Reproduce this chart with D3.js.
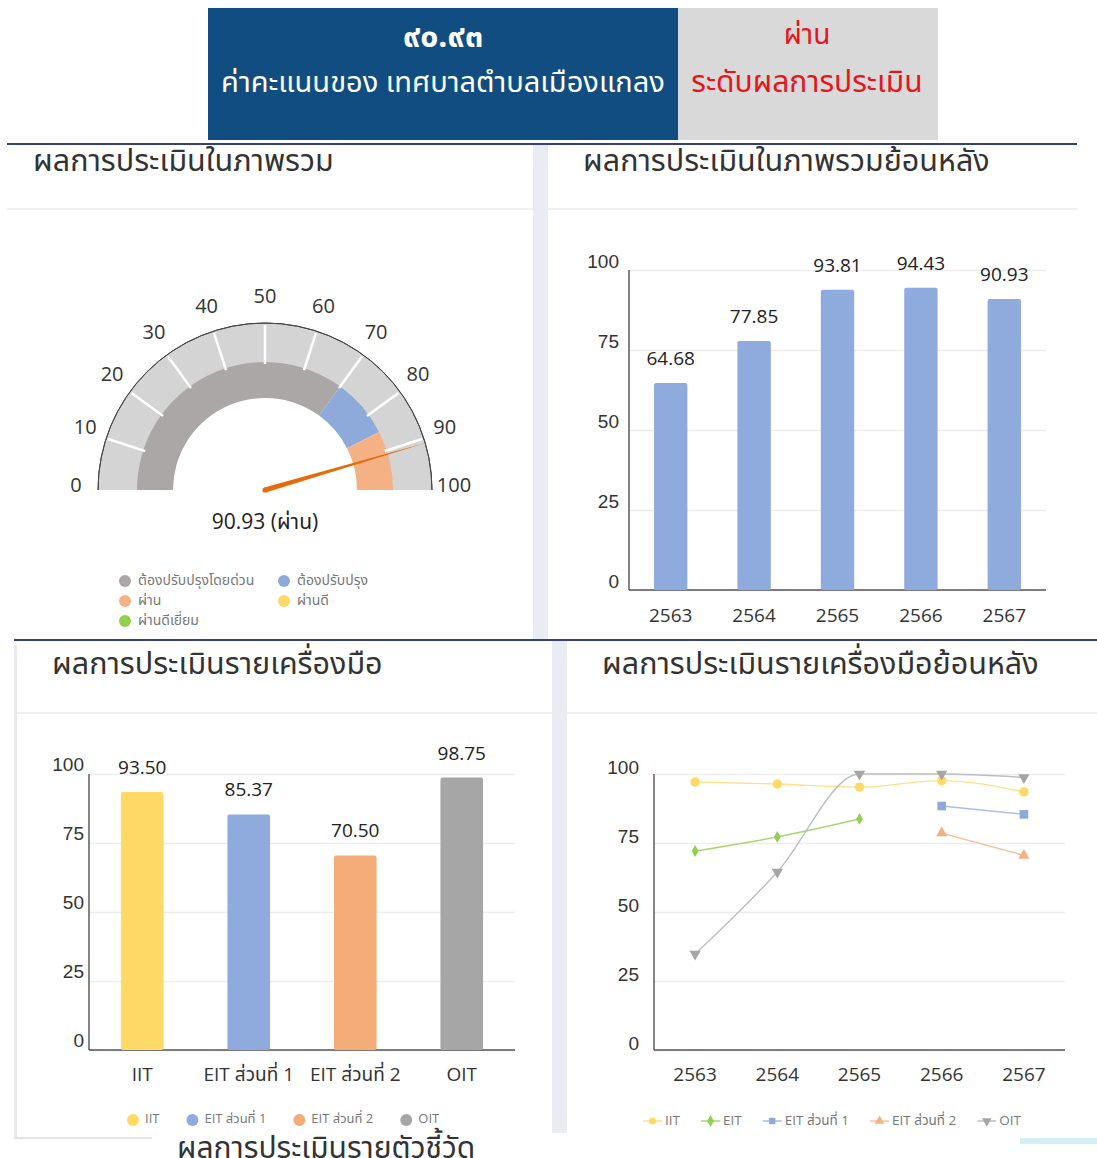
<!DOCTYPE html>
<html>
<head>
<meta charset="utf-8">
<script src="https://cdn.jsdelivr.net/npm/d3@7"></script>
<style>
  body { margin: 0; background: #fff; }
  svg { display: block; font-family: "Open Sans", "Noto Sans Thai", "Noto Sans", sans-serif; }
</style>
</head>
<body>
<svg id="viz" width="1097" height="1158"></svg>
<script>
// ---- data ----
var headerScore = "๙๐.๙๓";
var headerName = "ค่าคะแนนของ เทศบาลตำบลเมืองแกลง";
var headerLevel = "ผ่าน";
var headerLevelTitle = "ระดับผลการประเมิน";

var panelTitles = ["ผลการประเมินในภาพรวม", "ผลการประเมินในภาพรวมย้อนหลัง", "ผลการประเมินรายเครื่องมือ", "ผลการประเมินรายเครื่องมือย้อนหลัง"];
var footerTitle = "ผลการประเมินรายตัวชี้วัด";

var score = 90.93;
var scoreLevel = "ผ่าน";
var gaugeTicks = [0, 10, 20, 30, 40, 50, 60, 70, 80, 90, 100];
var gaugeBandLimits = [0, 70, 85, 100];
var gaugeBandColors = ["#aba7a7", "#8eaadb", "#f4b183"];
var levelNames = ["ต้องปรับปรุงโดยด่วน", "ต้องปรับปรุง", "ผ่าน", "ผ่านดี", "ผ่านดีเยี่ยม"];
var levelColors = ["#aba7a7", "#8eaadb", "#f4b183", "#ffd966", "#92d050"];

var years = ["2563", "2564", "2565", "2566", "2567"];
var overallScores = [64.68, 77.85, 93.81, 94.43, 90.93];

var tools = ["IIT", "EIT ส่วนที่ 1", "EIT ส่วนที่ 2", "OIT"];
var toolScores = [93.50, 85.37, 70.50, 98.75];
var toolColors = ["#ffd966", "#8faadc", "#f4ac78", "#a6a6a6"];

var yTicks = [0, 25, 50, 75, 100];

var seriesNames = ["IIT", "EIT", "EIT ส่วนที่ 1", "EIT ส่วนที่ 2", "OIT"];
var iitByYear = [97.12, 96.38, 95.25, 97.61, 93.50];
var eitByYear = [72.1, 77.2, 83.7, null, null];
var eit1ByYear = [null, null, null, 88.4, 85.37];
var eit2ByYear = [null, null, null, 78.6, 70.50];
var oitByYear = [34.8, 64.5, 100, 100, 98.75];
var seriesColors = ["#ffd966", "#92d050", "#8eaadb", "#f4b183", "#a5a5a5"];
var seriesLineColors = ["#ffe08a", "#a6d672", "#a9bfe6", "#f6bf98", "#bdbdbd"];
var seriesSymbols = [d3.symbolCircle, d3.symbolDiamond, d3.symbolSquare, d3.symbolTriangle, d3.symbolTriangle];

var svg = d3.select("#viz");

// ---- header ----
svg.append("rect").attr("x", 208).attr("y", 8).attr("width", 470).attr("height", 132).attr("fill", "#114d80");
svg.append("rect").attr("x", 678).attr("y", 8).attr("width", 260).attr("height", 132).attr("fill", "#d9d9d9");
svg.append("text").attr("x", 443).attr("y", 38).attr("text-anchor", "middle").attr("dominant-baseline", "middle")
	.attr("font-size", 32).attr("font-weight", "bold").attr("fill", "#fff").text(headerScore);
svg.append("text").attr("x", 443).attr("y", 84).attr("text-anchor", "middle").attr("dominant-baseline", "middle")
	.attr("font-size", 29).attr("fill", "#fff").text(headerName);
svg.append("text").attr("x", 807).attr("y", 37).attr("text-anchor", "middle").attr("dominant-baseline", "middle")
	.attr("font-size", 28).attr("fill", "#e8141b").text(headerLevel);
svg.append("text").attr("x", 807).attr("y", 84).attr("text-anchor", "middle").attr("dominant-baseline", "middle")
	.attr("font-size", 30).attr("fill", "#e8141b").text(headerLevelTitle);

// ---- page frame ----
svg.append("rect").attr("x", 533).attr("y", 145).attr("width", 15).attr("height", 495).attr("fill", "#e9edf3");
svg.append("rect").attr("x", 552).attr("y", 641).attr("width", 15).attr("height", 492).attr("fill", "#e9edf3");
svg.append("rect").attr("x", 14).attr("y", 645).attr("width", 3).attr("height", 494).attr("fill", "#e6e9ee");
svg.append("rect").attr("x", 14).attr("y", 1137).attr("width", 138).attr("height", 2).attr("fill", "#e3e3e3");
svg.append("line").attr("x1", 7).attr("x2", 1077).attr("y1", 144).attr("y2", 144).attr("stroke", "#343f7c").attr("stroke-width", 2);
svg.append("line").attr("x1", 14).attr("x2", 1097).attr("y1", 640).attr("y2", 640).attr("stroke", "#343f7c").attr("stroke-width", 2);
svg.append("rect").attr("x", 1020).attr("y", 1138).attr("width", 77).attr("height", 6).attr("fill", "#d3efee");

var seps = [[7, 533, 209], [548, 1077, 209], [17, 552, 713], [567, 1097, 713]];
seps.forEach(function(s) {
	svg.append("line").attr("x1", s[0]).attr("x2", s[1]).attr("y1", s[2]).attr("y2", s[2])
		.attr("stroke", "#efefef").attr("stroke-width", 2);
});

var titlePos = [[33, 163], [583, 163], [52, 666], [602, 666]];
panelTitles.forEach(function(t, i) {
	svg.append("text").attr("x", titlePos[i][0]).attr("y", titlePos[i][1]).attr("dominant-baseline", "middle")
		.attr("font-size", 30.5).attr("fill", "#333").text(t);
});
svg.append("text").attr("x", 177).attr("y", 1150).attr("dominant-baseline", "middle")
	.attr("font-size", 30).attr("fill", "#333").text(footerTitle);

// ---- gauge ----
var gauge = svg.append("g").attr("transform", "translate(265,490)");
var ang = d3.scaleLinear().domain([0, 100]).range([-Math.PI / 2, Math.PI / 2]);

gauge.append("path")
	.attr("d", d3.arc()({innerRadius: 127, outerRadius: 167, startAngle: ang(0), endAngle: ang(100)}))
	.attr("fill", "#d4d4d4");
gauge.append("path")
	.attr("d", d3.arc()({innerRadius: 167, outerRadius: 167, startAngle: ang(0), endAngle: ang(100)}))
	.attr("fill", "none").attr("stroke", "#444").attr("stroke-width", 1);

for (var b = 0; b < gaugeBandColors.length; b++) {
	gauge.append("path")
		.attr("d", d3.arc()({innerRadius: 92, outerRadius: 128, startAngle: ang(gaugeBandLimits[b]), endAngle: ang(gaugeBandLimits[b + 1])}))
		.attr("fill", gaugeBandColors[b]);
}

gaugeTicks.forEach(function(t) {
	var a = ang(t);
	if (t > 0 && t < 100) {
		gauge.append("line")
			.attr("x1", Math.sin(a) * 126).attr("y1", -Math.cos(a) * 126)
			.attr("x2", Math.sin(a) * 165).attr("y2", -Math.cos(a) * 165)
			.attr("stroke", "#fff").attr("stroke-width", 2.5);
	}
	gauge.append("text")
		.attr("x", Math.sin(a) * 189).attr("y", -Math.cos(a) * 189 - 3)
		.attr("text-anchor", "middle").attr("dominant-baseline", "middle")
		.attr("font-size", 20).attr("fill", "#333").text(t);
});

// needle
var na = ang(score);
var tip = [Math.sin(na) * 168, -Math.cos(na) * 168];
var px = Math.cos(na) * 2.6, py = Math.sin(na) * 2.6;
gauge.append("path")
	.attr("d", "M" + (-px) + "," + (-py) + " L" + tip[0] + "," + tip[1] + " L" + px + "," + py + " Z")
	.attr("fill", "#e46c0a");
gauge.append("circle").attr("r", 2.6).attr("fill", "#e46c0a");

gauge.append("text").attr("x", 0).attr("y", 33).attr("text-anchor", "middle").attr("dominant-baseline", "middle")
	.attr("font-size", 21).attr("fill", "#222").text(score.toFixed(2) + " (" + scoreLevel + ")");

// gauge legend
levelNames.forEach(function(n, i) {
	var col = i % 2, row = Math.floor(i / 2);
	var g = svg.append("g").attr("transform", "translate(" + (125 + col * 159) + "," + (581 + row * 20) + ")");
	g.append("circle").attr("r", 6).attr("fill", levelColors[i]);
	g.append("text").attr("x", 13).attr("dominant-baseline", "middle")
		.attr("font-size", 14).attr("fill", "#777").text(n);
});

// ---- helper for y axis with grid ----
function drawYAxis(g, y, x0, x1, pad, dy) {
	var ax = g.append("g").attr("transform", "translate(" + x0 + ",0)")
		.call(d3.axisLeft(y).tickValues(yTicks).tickSize(-(x1 - x0)).tickPadding(pad));
	ax.select(".domain").remove();
	ax.selectAll(".tick line").attr("stroke", "#ececec").attr("stroke-width", 1.5);
	ax.selectAll(".tick text").attr("font-size", 19).attr("fill", "#333").attr("dy", dy)
		.attr("font-family", "inherit");
	g.append("line").attr("x1", x0).attr("x2", x0).attr("y1", y(100)).attr("y2", y(0)).attr("stroke", "#333").attr("stroke-width", 1.2);
	g.append("line").attr("x1", x0).attr("x2", x1).attr("y1", y(0)).attr("y2", y(0)).attr("stroke", "#555").attr("stroke-width", 1.5);
}

function drawXLabels(g, labels, xpos, yv) {
	labels.forEach(function(l) {
		g.append("text").attr("x", xpos(l)).attr("y", yv).attr("text-anchor", "middle").attr("dominant-baseline", "middle")
			.attr("font-size", 19).attr("fill", "#333").text(l);
	});
}

// ---- overall by year bars ----
var g1 = svg.append("g");
var x1 = d3.scaleBand().domain(years).range([629, 1046]).paddingInner(0.6).paddingOuter(0.3);
var y1 = d3.scaleLinear().domain([0, 100]).range([590, 270]);
drawYAxis(g1, y1, 629, 1046, 10, "-0.15em");
g1.selectAll(".bar").data(years).enter().append("rect")
	.attr("x", function(d) { return x1(d); })
	.attr("y", function(d, i) { return y1(overallScores[i]); })
	.attr("width", x1.bandwidth())
	.attr("height", function(d, i) { return y1(0) - y1(overallScores[i]); })
	.attr("rx", 2).attr("fill", "#8faadc");
g1.selectAll(".val").data(years).enter().append("text")
	.attr("x", function(d) { return x1(d) + x1.bandwidth() / 2; })
	.attr("y", function(d, i) { return y1(overallScores[i]) - 23; })
	.attr("text-anchor", "middle").attr("dominant-baseline", "middle")
	.attr("font-size", 19).attr("fill", "#222")
	.text(function(d, i) { return overallScores[i].toFixed(2); });
drawXLabels(g1, years, function(d) { return x1(d) + x1.bandwidth() / 2; }, 617);

// ---- per tool bars ----
var g2 = svg.append("g");
var x2 = d3.scaleBand().domain(tools).range([89, 515]).paddingInner(0.6).paddingOuter(0.3);
var y2 = d3.scaleLinear().domain([0, 100]).range([1050, 774]);
drawYAxis(g2, y2, 89, 515, 5, "-0.2em");
g2.selectAll(".bar").data(tools).enter().append("rect")
	.attr("x", function(d) { return x2(d); })
	.attr("y", function(d, i) { return y2(toolScores[i]); })
	.attr("width", x2.bandwidth())
	.attr("height", function(d, i) { return y2(0) - y2(toolScores[i]); })
	.attr("rx", 2).attr("fill", function(d, i) { return toolColors[i]; });
g2.selectAll(".val").data(tools).enter().append("text")
	.attr("x", function(d) { return x2(d) + x2.bandwidth() / 2; })
	.attr("y", function(d, i) { return y2(toolScores[i]) - 23; })
	.attr("text-anchor", "middle").attr("dominant-baseline", "middle")
	.attr("font-size", 19).attr("fill", "#222")
	.text(function(d, i) { return toolScores[i].toFixed(2); });
drawXLabels(g2, tools, function(d) { return x2(d) + x2.bandwidth() / 2; }, 1076);

// legend (circles)
var lx = 133;
tools.forEach(function(t, i) {
	var g = g2.append("g").attr("transform", "translate(" + lx + ",1120)");
	g.append("circle").attr("r", 6).attr("fill", toolColors[i]);
	var tx = g.append("text").attr("x", 12).attr("dominant-baseline", "middle")
		.attr("font-size", 13).attr("fill", "#777").text(t);
	lx += 12 + tx.node().getComputedTextLength() + 33;
});

// ---- per tool by year lines ----
var g3 = svg.append("g");
var x3 = d3.scalePoint().domain(years).range([654, 1065]).padding(0.5);
var y3 = d3.scaleLinear().domain([0, 100]).range([1050, 774]);
drawYAxis(g3, y3, 654, 1065, 15, "-0.05em");
drawXLabels(g3, years, x3, 1076);

var allSeries = [iitByYear, eitByYear, eit1ByYear, eit2ByYear, oitByYear];
var line = d3.line()
	.defined(function(d) { return d != null; })
	.x(function(d, i) { return x3(years[i]); })
	.y(function(d) { return y3(d); })
	.curve(d3.curveMonotoneX);

function symbolPath(i) {
	var sizes = [70, 40, 75, 55, 55];
	return d3.symbol().type(seriesSymbols[i]).size(sizes[i])();
}

allSeries.forEach(function(vals, s) {
	g3.append("path").attr("d", line(vals)).attr("fill", "none")
		.attr("stroke", seriesLineColors[s]).attr("stroke-width", 1.4);
});
allSeries.forEach(function(vals, s) {
	vals.forEach(function(v, i) {
		if (v == null) return;
		g3.append("path").attr("d", symbolPath(s))
			.attr("transform", "translate(" + x3(years[i]) + "," + y3(v) + ")" + (s == 4 ? " rotate(180)" : ""))
			.attr("fill", seriesColors[s]);
	});
});

// legend (line + marker)
var lx3 = 643;
seriesNames.forEach(function(n, s) {
	var g = g3.append("g").attr("transform", "translate(" + lx3 + ",1121)");
	g.append("line").attr("x1", 0).attr("x2", 19).attr("stroke", seriesLineColors[s]).attr("stroke-width", 1.5);
	g.append("path").attr("d", d3.symbol().type(seriesSymbols[s]).size(40)())
		.attr("transform", "translate(9.5,0)" + (s == 4 ? " rotate(180)" : "")).attr("fill", seriesColors[s]);
	var tx = g.append("text").attr("x", 22).attr("dominant-baseline", "middle")
		.attr("font-size", 13.5).attr("fill", "#777").text(n);
	lx3 += 22 + tx.node().getComputedTextLength() + 21;
});
</script>
</body>
</html>
